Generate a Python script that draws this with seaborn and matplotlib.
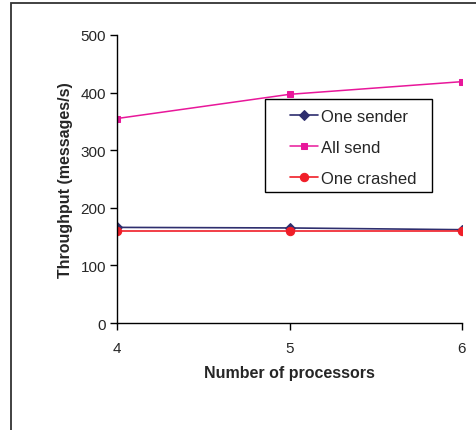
import matplotlib
matplotlib.use("Agg")
import matplotlib.pyplot as plt
import seaborn as sns
import pandas as pd
from matplotlib.patches import Rectangle

processors = [4, 5, 6]
one_sender = [166, 165, 162]
all_send = [355, 397, 419]
one_crashed = [160, 160, 160]

sns.set_style("white")
plt.rcParams['font.family'] = ['Liberation Sans', 'DejaVu Sans']

fig = plt.figure(figsize=(4.76, 4.31), dpi=100)
ax = fig.add_axes([117/476, 1 - 324/431, 345/476, 288/431])

sns.lineplot(x=processors, y=one_sender, ax=ax, color="#2e2e6e", marker="D",
             markersize=5, linewidth=1.2, markeredgecolor="#2e2e6e", label="One sender")
sns.lineplot(x=processors, y=all_send, ax=ax, color="#e8179a", marker="s",
             markersize=5, linewidth=1.1, markeredgecolor="#e8179a", label="All send")
sns.lineplot(x=processors, y=one_crashed, ax=ax, color="#f01e28", marker="o",
             markersize=6, linewidth=1.2, markeredgecolor="#f01e28", label="One crashed")

ax.set_xlim(4, 6)
ax.set_ylim(0, 500)
ax.set_xticks(processors)
ax.set_yticks([0, 100, 200, 300, 400, 500])
ax.tick_params(axis='both', direction='out', length=5, width=1, color='black',
               labelsize=11, bottom=True, left=True, pad=3)
ax.tick_params(axis='x', pad=8)
for s in ['top', 'right']:
    ax.spines[s].set_visible(False)
for s in ['left', 'bottom']:
    ax.spines[s].set_color('black')
    ax.spines[s].set_linewidth(1)
ax.set_xlabel("Number of processors", fontsize=11.5, fontweight='bold', labelpad=7)
ax.set_ylabel("Throughput (messages/s)", fontsize=11.5, fontweight='bold', labelpad=5)

# legend entries without frame; the box is drawn separately
leg = ax.legend(loc='upper left', bbox_to_anchor=(290/476, 1 - 110/431),
                bbox_transform=fig.transFigure, frameon=False,
                fontsize=12, handlelength=1.65,
                handletextpad=0.2, labelspacing=0.95, borderpad=0,
                borderaxespad=0)
fig.patches.append(Rectangle((265/476, 1 - 193/431), 167/476, 93/431,
                             transform=fig.transFigure, facecolor='white',
                             edgecolor='black', linewidth=1, zorder=0.5))
ax.set_zorder(1)
ax.patch.set_alpha(0)

fig.patches.append(Rectangle((11/476, -0.1), 1.2, 0.1 + 1 - 4/431,
                             transform=fig.transFigure, fill=False,
                             edgecolor='#333333', linewidth=1.3))

fig.savefig("out.png", dpi=100)
